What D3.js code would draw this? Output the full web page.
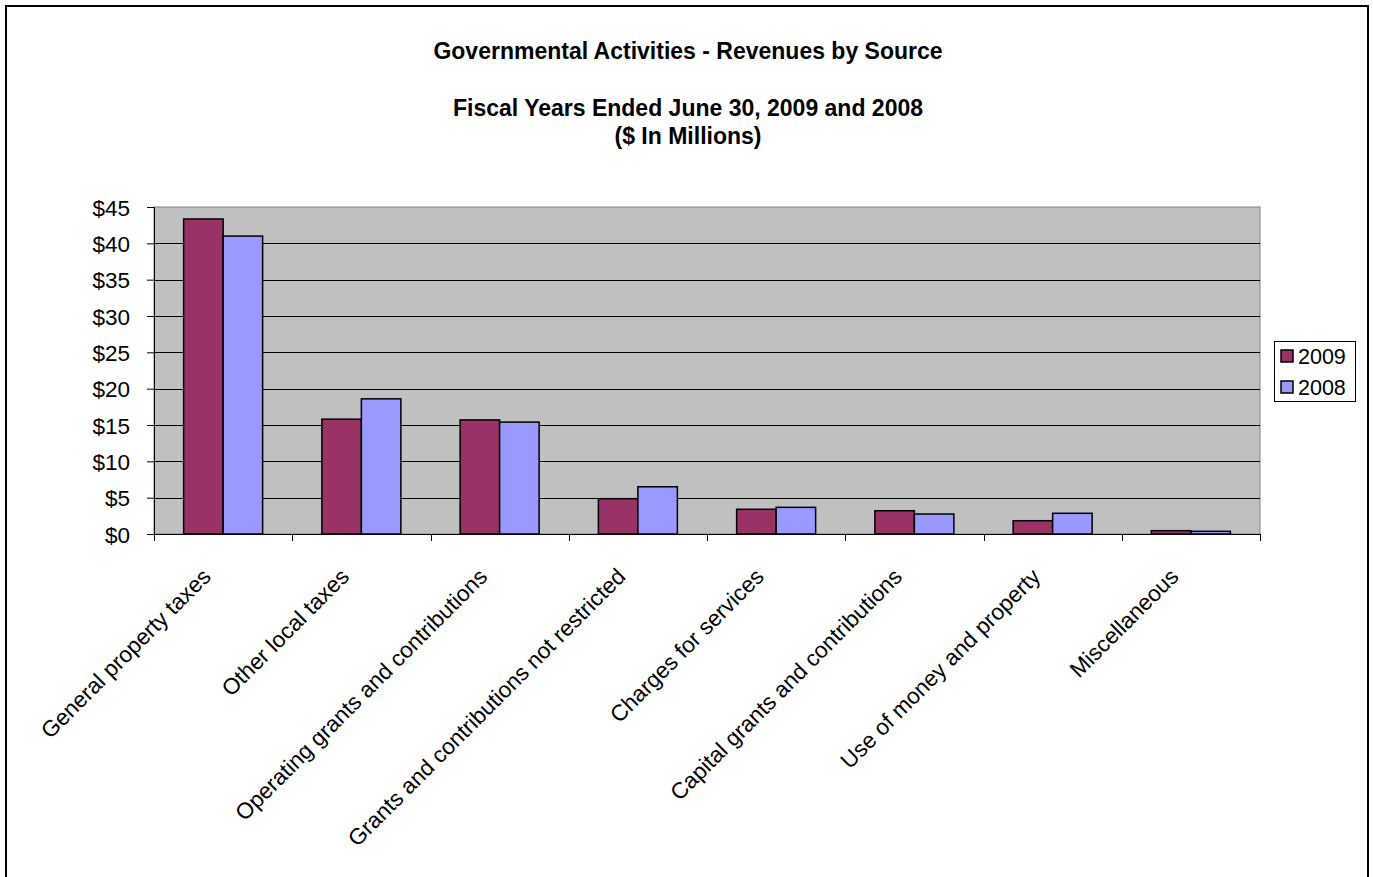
<!DOCTYPE html>
<html><head><meta charset="utf-8">
<script src="https://cdn.jsdelivr.net/npm/d3@7"></script>
<style>html,body{margin:0;padding:0;background:#fff;}svg{display:block;font-family:"Liberation Sans",Arial,sans-serif;}</style>
</head><body>
<svg id="c" width="1373" height="877"></svg>
<script>
const categories = ["General property taxes","Other local taxes","Operating grants and contributions","Grants and contributions not restricted","Charges for services","Capital grants and contributions","Use of money and property","Miscellaneous"];
const seriesNames = ["2009","2008"];
const values2009 = [43.35, 15.8, 15.7, 4.86, 3.4, 3.2, 1.83, 0.46];
const values2008 = [41.0, 18.6, 15.4, 6.5, 3.67, 2.75, 2.85, 0.37];
const colors = ["#993366","#9999FF"];
const yTicks = [0,5,10,15,20,25,30,35,40,45];
const titleLines = ["Governmental Activities - Revenues by Source","Fiscal Years Ended June 30, 2009 and 2008","($ In Millions)"];

const svg = d3.select("#c");
svg.append("rect").attr("x",6).attr("y",6).attr("width",1362).attr("height",880).attr("fill","#fff").attr("stroke","#000").attr("stroke-width",2);

const L=154,R=1260,T=207,B=534;
const x0 = d3.scaleBand().domain(categories).range([L,R]).padding(0);
const bw = x0.bandwidth();
const x1 = d3.scaleBand().domain(seriesNames).range([bw*1.5/7, bw*5.5/7]).padding(0);
const y = d3.scaleLinear().domain([0,45]).range([B,T]);

svg.append("rect").attr("x",L).attr("y",T).attr("width",R-L).attr("height",B-T).attr("fill","#C0C0C0").attr("stroke","#808080").attr("stroke-width",1);
svg.append("g").selectAll("line").data(yTicks.filter(d=>d>0 && d<45)).join("line")
 .attr("x1",L).attr("x2",R).attr("y1",d=>Math.round(y(d))+0.5).attr("y2",d=>Math.round(y(d))+0.5).attr("stroke","#000").attr("stroke-width",1);

const data = categories.map((c,i)=>({c, vals:[values2009[i],values2008[i]]}));
const g = svg.append("g").selectAll("g").data(data).join("g").attr("transform",d=>`translate(${x0(d.c)},0)`);
g.selectAll("rect").data(d=>d.vals.map((v,j)=>({k:seriesNames[j],v,j}))).join("rect")
 .attr("x",d=>x1(d.k)).attr("width",x1.bandwidth()).attr("y",d=>y(d.v)).attr("height",d=>B-y(d.v))
 .attr("fill",d=>colors[d.j]).attr("stroke","#000").attr("stroke-width",1.5);

// y axis
const ya = svg.append("g").attr("transform",`translate(${L},0)`)
 .call(d3.axisLeft(y).tickValues(yTicks).tickSize(7).tickPadding(17).tickFormat(d=>"$"+d));
ya.select(".domain").attr("stroke","#000").attr("stroke-width",1);
ya.selectAll(".tick line").attr("stroke","#000");
ya.selectAll("text").attr("font-size",22.5).attr("fill","#000").attr("font-family","Liberation Sans, Arial, sans-serif").attr("dy","0.36em");

// x axis
const xa = svg.append("g").attr("transform",`translate(0,${B})`)
 .call(d3.axisBottom(x0).tickSize(0).tickFormat(""));
xa.select(".domain").attr("stroke","#000");
const tickPos = categories.map(c=>x0(c)).concat([R]);
svg.append("g").selectAll("line").data(tickPos).join("line")
 .attr("x1",d=>Math.round(d)+0.5).attr("x2",d=>Math.round(d)+0.5).attr("y1",B).attr("y2",B+7).attr("stroke","#000");
svg.append("g").selectAll("text").data(categories).join("text")
 .attr("transform",d=>`translate(${x0(d)+bw/2-11},${B+44}) rotate(-45)`)
 .attr("text-anchor","end").attr("font-size",22.5).attr("fill","#000").text(d=>d);

// titles
const ty=[59,116,144];
svg.append("g").selectAll("text").data(titleLines).join("text")
 .attr("x",688).attr("y",(d,i)=>ty[i]).attr("text-anchor","middle").attr("font-weight","bold").attr("font-size",23).text(d=>d);

// legend
const lg = svg.append("g");
lg.append("rect").attr("x",1274.5).attr("y",341.5).attr("width",81).attr("height",60).attr("fill","#fff").attr("stroke","#000");
seriesNames.forEach((s,i)=>{
  lg.append("rect").attr("x",1281).attr("y",350+i*31).attr("width",12).attr("height",12).attr("fill",colors[i]).attr("stroke","#000").attr("stroke-width",1.5);
  lg.append("text").attr("x",1298).attr("y",364+i*31).attr("font-size",21.5).text(s);
});
</script>
</body></html>
